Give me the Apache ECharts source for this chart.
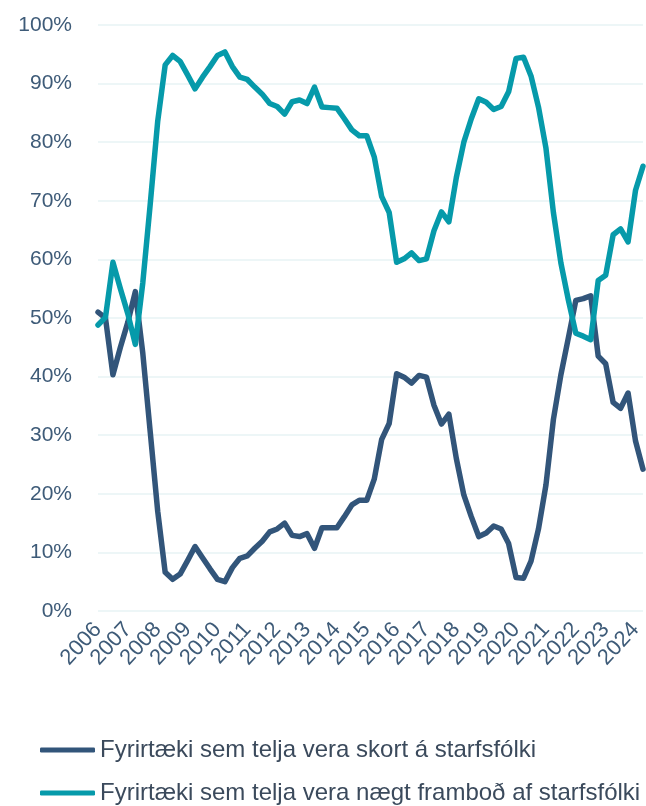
<!DOCTYPE html>
<html>
<head>
<meta charset="utf-8">
<script src="https://cdn.jsdelivr.net/npm/echarts@6/dist/echarts.min.js"></script>
<style>
  html, body { margin: 0; padding: 0; background: #fff; }
  #chart { width: 646px; height: 806px; }
</style>
</head>
<body>
<div id="chart"></div>
<script>
// ársfjórðungsleg gögn 2006 - 2024
var years = [2006, 2007, 2008, 2009, 2010, 2011, 2012, 2013, 2014, 2015,
             2016, 2017, 2018, 2019, 2020, 2021, 2022, 2023, 2024];

// Fyrirtæki sem telja vera skort á starfsfólki (%)
var skortur = [
  51.0, 50.0, 40.3, 45.0, 49.3, 54.5, 44.0, 30.5, 17.0, 6.6,
  5.4, 6.3, 8.6, 11.0, 9.1, 7.2, 5.4, 5.0, 7.4, 9.0,
  9.4, 10.7, 11.9, 13.5, 14.0, 15.0, 12.9, 12.7, 13.2, 10.7,
  14.2, 14.2, 14.2, 16.1, 18.1, 18.9, 18.9, 22.5, 29.3, 32.0,
  40.5, 39.9, 38.9, 40.2, 39.9, 35.1, 31.9, 33.6, 26.0, 19.8,
  16.1, 12.7, 13.3, 14.5, 14.0, 11.5, 5.7, 5.6, 8.5, 14.0,
  21.5, 32.7, 40.3, 46.6, 53.0, 53.3, 53.8, 43.5, 42.2, 35.6,
  34.6, 37.2, 29.0, 24.2
];

// Fyrirtæki sem telja vera nægt framboð af starfsfólki (%)
var framboð = [
  48.8, 50.1, 59.5, 55.0, 50.7, 45.5, 56.0, 69.5, 83.6, 93.2,
  94.8, 93.8, 91.5, 89.1, 91.1, 92.9, 94.8, 95.4, 92.9, 91.1,
  90.7, 89.4, 88.2, 86.6, 86.1, 84.8, 86.9, 87.2, 86.6, 89.4,
  86.0, 85.9, 85.8, 84.0, 82.1, 81.1, 81.1, 77.5, 70.7, 68.0,
  59.5, 60.1, 61.1, 59.8, 60.1, 64.9, 68.1, 66.4, 74.0, 80.0,
  84.0, 87.4, 86.8, 85.6, 86.1, 88.6, 94.3, 94.5, 91.3, 86.0,
  79.0, 68.0, 59.4, 53.1, 47.4, 46.9, 46.3, 56.4, 57.3, 64.2,
  65.2, 63.0, 71.8, 75.9
];

var categories = [];
years.forEach(function (y) {
  for (var q = 1; q <= 4; q++) categories.push(y + 'Q' + q);
});
categories = categories.slice(0, skortur.length);

var textColor = '#3e5b78';
var myChart = echarts.init(document.getElementById('chart'));
myChart.setOption({
  animation: false,
  textStyle: { fontFamily: 'Liberation Sans, Arial, sans-serif' },
  grid: { left: 98, right: 3, top: 25, bottom: 195, containLabel: false },
  legend: {
    orient: 'vertical',
    left: 40,
    top: 738,
    padding: 0,
    itemWidth: 55,
    itemHeight: 5,
    itemGap: 19,
    icon: 'roundRect',
    textStyle: { fontSize: 24, lineHeight: 24, color: '#3b4a5c' },
    data: ['Fyrirtæki sem telja vera skort á starfsfólki',
           'Fyrirtæki sem telja vera nægt framboð af starfsfólki']
  },
  xAxis: {
    type: 'category',
    data: categories,
    boundaryGap: false,
    axisLine: { show: false },
    axisTick: { show: false },
    axisLabel: {
      interval: 3,
      rotate: 47,
      margin: 15,
      fontSize: 22,
      color: textColor,
      formatter: function (v) { return v.slice(0, 4); }
    }
  },
  yAxis: {
    type: 'value',
    min: 0,
    max: 100,
    interval: 10,
    axisLine: { show: false },
    axisTick: { show: false },
    axisLabel: { formatter: '{value}%', fontSize: 21, color: textColor, margin: 26 },
    splitLine: { lineStyle: { color: '#e7f3f5', width: 1.5 } }
  },
  series: [
    {
      name: 'Fyrirtæki sem telja vera skort á starfsfólki',
      type: 'line',
      data: skortur,
      symbol: 'none',
      color: '#32557a',
      lineStyle: { width: 5.5, color: '#32557a', cap: 'round', join: 'round' }
    },
    {
      name: 'Fyrirtæki sem telja vera nægt framboð af starfsfólki',
      type: 'line',
      data: framboð,
      symbol: 'none',
      color: '#069aaa',
      lineStyle: { width: 5.5, color: '#069aaa', cap: 'round', join: 'round' }
    }
  ]
});
</script>
</body>
</html>
